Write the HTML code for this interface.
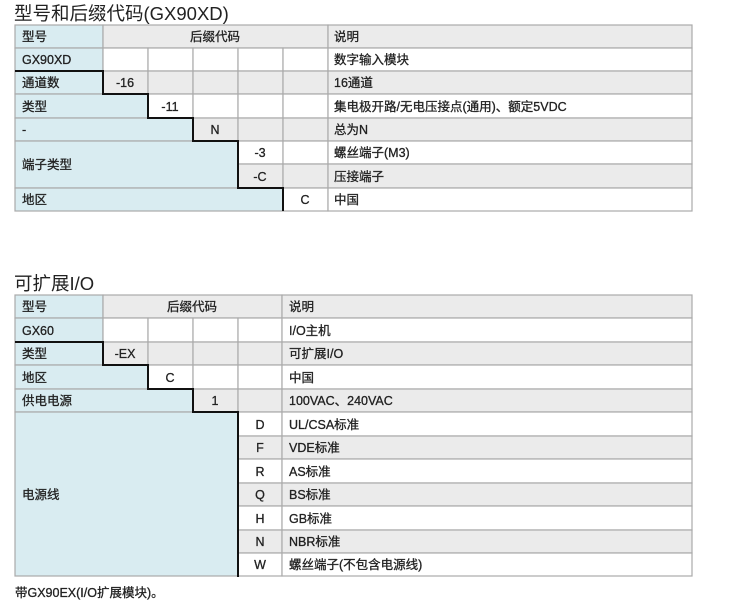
<!DOCTYPE html>
<html><head><meta charset="utf-8"><style>
html,body{margin:0;padding:0;background:#fff;}
svg{display:block;}
text{font-family:"Liberation Sans","Noto Sans CJK SC",sans-serif;fill:#222;}
.t text{stroke:#222;stroke-width:0.3;}
</style></head><body>
<svg width="748" height="611" viewBox="0 0 748 611" xmlns="http://www.w3.org/2000/svg">
<text x="14" y="20" font-size="18.5">型号和后缀代码(GX90XD)</text>
<g stroke="#aaa" stroke-width="1.2" font-size="12.5">
<rect x="15" y="25" width="88" height="23" fill="#d9ecf1"/>
<rect x="103" y="25" width="225" height="23" fill="#ebebeb"/>
<rect x="328" y="25" width="364" height="23" fill="#ebebeb"/>
<rect x="15" y="48" width="88" height="23" fill="#d9ecf1"/>
<rect x="103" y="48" width="45" height="23" fill="#fff"/><rect x="148" y="48" width="45" height="23" fill="#fff"/><rect x="193" y="48" width="45" height="23" fill="#fff"/><rect x="238" y="48" width="45" height="23" fill="#fff"/><rect x="283" y="48" width="45" height="23" fill="#fff"/>
<rect x="328" y="48" width="364" height="23" fill="#fff"/>
<rect x="15" y="71" width="88" height="23" fill="#d9ecf1"/>
<rect x="103" y="71" width="45" height="23" fill="#ebebeb"/><rect x="148" y="71" width="45" height="23" fill="#ebebeb"/><rect x="193" y="71" width="45" height="23" fill="#ebebeb"/><rect x="238" y="71" width="45" height="23" fill="#ebebeb"/><rect x="283" y="71" width="45" height="23" fill="#ebebeb"/>
<rect x="328" y="71" width="364" height="23" fill="#ebebeb"/>
<rect x="15" y="94" width="133" height="24" fill="#d9ecf1"/>
<rect x="148" y="94" width="45" height="24" fill="#fff"/><rect x="193" y="94" width="45" height="24" fill="#fff"/><rect x="238" y="94" width="45" height="24" fill="#fff"/><rect x="283" y="94" width="45" height="24" fill="#fff"/>
<rect x="328" y="94" width="364" height="24" fill="#fff"/>
<rect x="15" y="118" width="178" height="23" fill="#d9ecf1"/>
<rect x="193" y="118" width="45" height="23" fill="#ebebeb"/><rect x="238" y="118" width="45" height="23" fill="#ebebeb"/><rect x="283" y="118" width="45" height="23" fill="#ebebeb"/>
<rect x="328" y="118" width="364" height="23" fill="#ebebeb"/>
<rect x="15" y="141" width="223" height="47" fill="#d9ecf1"/>
<rect x="238" y="141" width="45" height="23" fill="#fff"/><rect x="283" y="141" width="45" height="23" fill="#fff"/>
<rect x="328" y="141" width="364" height="23" fill="#fff"/>
<rect x="238" y="164" width="45" height="24" fill="#ebebeb"/><rect x="283" y="164" width="45" height="24" fill="#ebebeb"/>
<rect x="328" y="164" width="364" height="24" fill="#ebebeb"/>
<rect x="15" y="188" width="268" height="23" fill="#d9ecf1"/>
<rect x="283" y="188" width="45" height="23" fill="#fff"/>
<rect x="328" y="188" width="364" height="23" fill="#fff"/>

<rect x="15" y="295" width="88" height="23" fill="#d9ecf1"/>
<rect x="103" y="295" width="179" height="23" fill="#ebebeb"/>
<rect x="282" y="295" width="410" height="23" fill="#ebebeb"/>
<rect x="15" y="318" width="88" height="24" fill="#d9ecf1"/>
<rect x="103" y="318" width="45" height="24" fill="#fff"/><rect x="148" y="318" width="45" height="24" fill="#fff"/><rect x="193" y="318" width="45" height="24" fill="#fff"/><rect x="238" y="318" width="44" height="24" fill="#fff"/>
<rect x="282" y="318" width="410" height="24" fill="#fff"/>
<rect x="15" y="342" width="88" height="23" fill="#d9ecf1"/>
<rect x="103" y="342" width="45" height="23" fill="#ebebeb"/><rect x="148" y="342" width="45" height="23" fill="#ebebeb"/><rect x="193" y="342" width="45" height="23" fill="#ebebeb"/><rect x="238" y="342" width="44" height="23" fill="#ebebeb"/>
<rect x="282" y="342" width="410" height="23" fill="#ebebeb"/>
<rect x="15" y="365" width="133" height="24" fill="#d9ecf1"/>
<rect x="148" y="365" width="45" height="24" fill="#fff"/><rect x="193" y="365" width="45" height="24" fill="#fff"/><rect x="238" y="365" width="44" height="24" fill="#fff"/>
<rect x="282" y="365" width="410" height="24" fill="#fff"/>
<rect x="15" y="389" width="178" height="23" fill="#d9ecf1"/>
<rect x="193" y="389" width="45" height="23" fill="#ebebeb"/><rect x="238" y="389" width="44" height="23" fill="#ebebeb"/>
<rect x="282" y="389" width="410" height="23" fill="#ebebeb"/>
<rect x="15" y="412" width="223" height="164" fill="#d9ecf1"/>
<rect x="238" y="412" width="44" height="24" fill="#fff"/><rect x="282" y="412" width="410" height="24" fill="#fff"/>
<rect x="238" y="436" width="44" height="23" fill="#ebebeb"/><rect x="282" y="436" width="410" height="23" fill="#ebebeb"/>
<rect x="238" y="459" width="44" height="24" fill="#fff"/><rect x="282" y="459" width="410" height="24" fill="#fff"/>
<rect x="238" y="483" width="44" height="23" fill="#ebebeb"/><rect x="282" y="483" width="410" height="23" fill="#ebebeb"/>
<rect x="238" y="506" width="44" height="24" fill="#fff"/><rect x="282" y="506" width="410" height="24" fill="#fff"/>
<rect x="238" y="530" width="44" height="23" fill="#ebebeb"/><rect x="282" y="530" width="410" height="23" fill="#ebebeb"/>
<rect x="238" y="553" width="44" height="23" fill="#fff"/><rect x="282" y="553" width="410" height="23" fill="#fff"/>
</g>
<g fill="none" stroke="#111" stroke-width="2">
<path d="M15 71 H103 V94 H148 V118 H193 V141 H238 V188 H283 V211"/>
<path d="M15 342 H103 V365 H148 V389 H193 V412 H238 V577"/>
</g>
<g font-size="12.5" class="t">
<text x="22" y="41">型号</text>
<text x="215" y="41" text-anchor="middle">后缀代码</text>
<text x="334" y="41">说明</text>
<text x="22" y="64">GX90XD</text>
<text x="334" y="64">数字输入模块</text>
<text x="22" y="87">通道数</text>
<text x="125" y="87" text-anchor="middle">-16</text>
<text x="334" y="87">16通道</text>
<text x="22" y="111">类型</text>
<text x="170" y="111" text-anchor="middle">-11</text>
<text x="334" y="111">集电极开路/无电压接点(通用)、额定5VDC</text>
<text x="22" y="134">-</text>
<text x="215" y="134" text-anchor="middle">N</text>
<text x="334" y="134">总为N</text>
<text x="22" y="169">端子类型</text>
<text x="260" y="157" text-anchor="middle">-3</text>
<text x="334" y="157">螺丝端子(M3)</text>
<text x="260" y="181" text-anchor="middle">-C</text>
<text x="334" y="181">压接端子</text>
<text x="22" y="204">地区</text>
<text x="305" y="204" text-anchor="middle">C</text>
<text x="334" y="204">中国</text>
</g>
<text x="14" y="290" font-size="18.5">可扩展I/O</text>
<g font-size="12.5" class="t">
<text x="22" y="311">型号</text>
<text x="192" y="311" text-anchor="middle">后缀代码</text>
<text x="289" y="311">说明</text>
<text x="22" y="335">GX60</text>
<text x="289" y="335">I/O主机</text>
<text x="22" y="358">类型</text>
<text x="125" y="358" text-anchor="middle">-EX</text>
<text x="289" y="358">可扩展I/O</text>
<text x="22" y="382">地区</text>
<text x="170" y="382" text-anchor="middle">C</text>
<text x="289" y="382">中国</text>
<text x="22" y="405">供电电源</text>
<text x="215" y="405" text-anchor="middle">1</text>
<text x="289" y="405">100VAC、240VAC</text>
<text x="22" y="499">电源线</text>
<text x="260" y="429" text-anchor="middle">D</text><text x="289" y="429">UL/CSA标准</text>
<text x="260" y="452" text-anchor="middle">F</text><text x="289" y="452">VDE标准</text>
<text x="260" y="476" text-anchor="middle">R</text><text x="289" y="476">AS标准</text>
<text x="260" y="499" text-anchor="middle">Q</text><text x="289" y="499">BS标准</text>
<text x="260" y="523" text-anchor="middle">H</text><text x="289" y="523">GB标准</text>
<text x="260" y="546" text-anchor="middle">N</text><text x="289" y="546">NBR标准</text>
<text x="260" y="569" text-anchor="middle">W</text><text x="289" y="569">螺丝端子(不包含电源线)</text>
<text x="15" y="597">带GX90EX(I/O扩展模块)。</text>
</g>
</svg>
</body></html>
